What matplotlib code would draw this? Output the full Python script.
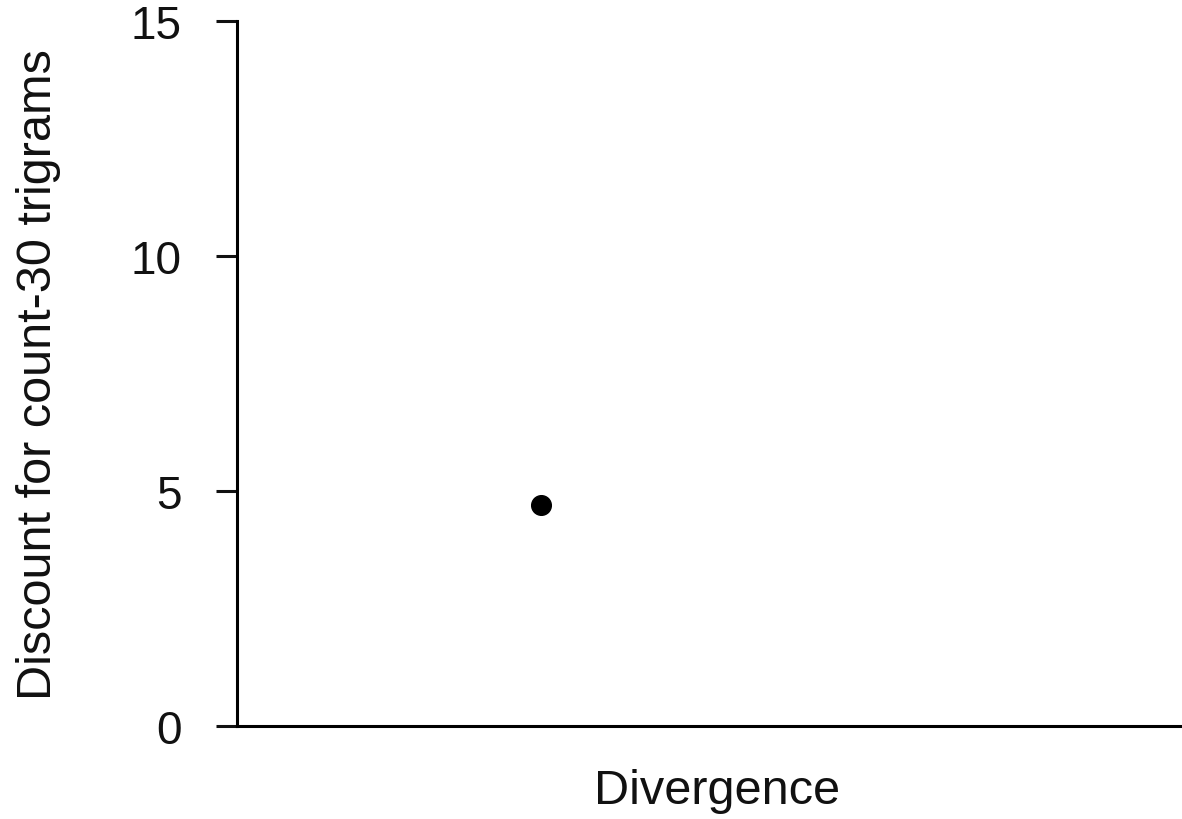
import matplotlib.pyplot as plt

plt.rcParams['font.family'] = ['Liberation Sans', 'DejaVu Sans']

# data
x_vals = [0.965]
discount = [4.7]
y_ticks = [0, 5, 10, 15]

fig = plt.figure(figsize=(11.82, 8.2), dpi=100)
ax = fig.add_axes([237 / 1182, 1 - 727 / 820, (1182 - 237) / 1182, (727 - 22) / 820])

ax.scatter(x_vals, discount, s=200, color='black', zorder=3)

ax.set_xlim(0, 3)
ax.set_ylim(0, 15)
ax.set_yticks(y_ticks)
ax.set_xticks([])

for s in ['top', 'right']:
    ax.spines[s].set_visible(False)
for s in ['left', 'bottom']:
    ax.spines[s].set_linewidth(2.2)
    ax.spines[s].set_color('black')

ax.tick_params(axis='y', length=15, width=2.2, labelsize=33, pad=25, colors='#111111')
ax.set_xlabel('Divergence', fontsize=35, color='#111111')
ax.xaxis.set_label_coords(0.508, -0.0596)
ax.set_ylabel('Discount for count-30 trigrams', fontsize=35, labelpad=50, color='#111111')

fig.savefig('out.png', dpi=100)
